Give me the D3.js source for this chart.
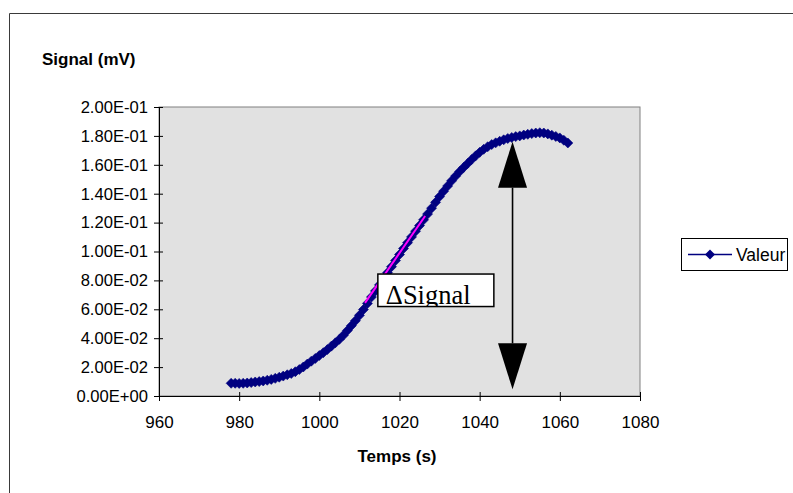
<!DOCTYPE html>
<html>
<head>
<meta charset="utf-8">
<script src="https://cdn.jsdelivr.net/npm/d3@7"></script>
<style>
    body { margin: 0; background: #fff; }
    svg { display: block; font-family: "Liberation Sans", Arial, sans-serif; }
</style>
</head>
<body>
<div id="chart"></div>
<script>
// time (s) and signal (mV)
const times = [
    978, 979, 980, 981, 982, 983, 984, 985, 986, 987, 988, 989, 990, 991, 992, 993, 994,
    995, 996, 997, 998, 999, 1000, 1001, 1002, 1003, 1004, 1005, 1006, 1007, 1008, 1009,
    1010, 1011, 1012, 1013, 1014, 1015, 1016, 1017, 1018, 1019, 1020, 1021, 1022, 1023,
    1024, 1025, 1026, 1027, 1028, 1029, 1030, 1031, 1032, 1033, 1034, 1035, 1036, 1037,
    1038, 1039, 1040, 1041, 1042, 1043, 1044, 1045, 1046, 1047, 1048, 1049, 1050, 1051,
    1052, 1053, 1054, 1055, 1056, 1057, 1058, 1059, 1060, 1061, 1062
];
const signal = [
    0.0088, 0.0088, 0.0087, 0.0088, 0.0090, 0.0093, 0.0097, 0.0100, 0.0104, 0.0109, 0.0115,
    0.0122, 0.0130, 0.0138, 0.0147, 0.0156, 0.0168, 0.0183, 0.0201, 0.0221, 0.0241, 0.0260,
    0.0280, 0.0300, 0.0321, 0.0345, 0.0368, 0.0392, 0.0420, 0.0453, 0.0487, 0.0521, 0.0558,
    0.0598, 0.0641, 0.0685, 0.0727, 0.0769, 0.0811, 0.0853, 0.0895, 0.0937, 0.0979, 0.1021,
    0.1061, 0.1101, 0.1141, 0.1180, 0.1219, 0.1259, 0.1300, 0.1340, 0.1380, 0.1417, 0.1453,
    0.1489, 0.1522, 0.1553, 0.1582, 0.1609, 0.1636, 0.1662, 0.1686, 0.1707, 0.1725, 0.1740,
    0.1752, 0.1763, 0.1773, 0.1782, 0.1789, 0.1795, 0.1800, 0.1806, 0.1811, 0.1816, 0.1820,
    0.1822, 0.1820, 0.1814, 0.1805, 0.1796, 0.1786, 0.1770, 0.1751
];

const xTicks = [960, 980, 1000, 1020, 1040, 1060, 1080];
const yTicks = [0, 0.02, 0.04, 0.06, 0.08, 0.1, 0.12, 0.14, 0.16, 0.18, 0.2];

// tangent (pink) and the delta-signal arrow
const tangentT = [1011.4, 1026.4];
const tangentV = [0.0644, 0.1246];
const arrowT = 1048.2;
const arrowV = [0.0046, 0.176];
const labelText = "\u0394Signal";
const labelAnchor = {t: 1014.6, v: 0.0844};

const seriesName = "Valeur";

function excelSci(v) {
    const [m, e] = v.toExponential(2).split('e');
    const n = +e;
    return m + 'E' + (n < 0 ? '-' : '+') + String(Math.abs(n)).padStart(2, '0');
}

const config = {
    width: 793,
    height: 493,
    plot: {left: 159, top: 107, right: 640, bottom: 396},
    navy: '#000080'
};

const svg = d3.select('#chart').append('svg')
    .attr('width', config.width)
    .attr('height', config.height);

// outer chart frame (runs off to the right and bottom)
svg.append('path')
    .attr('d', `M9.5,${config.height}V13.5H${config.width}`)
    .attr('fill', 'none')
    .attr('stroke', '#3a3a3a')
    .attr('stroke-width', 1);

const xScale = d3.scaleLinear()
    .domain([960, 1080])
    .range([config.plot.left, config.plot.right]);
const yScale = d3.scaleLinear()
    .domain([0, 0.2])
    .range([config.plot.bottom, config.plot.top]);

// plot area
svg.append('rect')
    .attr('x', config.plot.left)
    .attr('y', config.plot.top)
    .attr('width', config.plot.right - config.plot.left)
    .attr('height', config.plot.bottom - config.plot.top)
    .attr('fill', '#e1e1e1')
    .attr('stroke', '#808080')
    .attr('stroke-width', 1);

// axes
const xAxisGroup = svg.append('g')
    .attr('transform', `translate(0, ${config.plot.bottom})`)
    .call(d3.axisBottom(xScale).tickValues(xTicks).tickFormat(d3.format('d')).tickSizeOuter(0));
xAxisGroup.select('.domain').attr('stroke', '#000');
xAxisGroup.selectAll('.tick line').attr('y1', -4).attr('y2', 5).attr('stroke', '#000');
xAxisGroup.selectAll('.tick text')
    .attr('y', 20)
    .attr('dy', 0)
    .attr('dominant-baseline', 'hanging')
    .attr('font-size', 17)
    .attr('font-family', '"Liberation Sans", Arial, sans-serif')
    .attr('fill', '#000');

const yAxisGroup = svg.append('g')
    .attr('transform', `translate(${config.plot.left}, 0)`)
    .call(d3.axisLeft(yScale).tickValues(yTicks).tickFormat(excelSci).tickSizeOuter(0));
yAxisGroup.select('.domain').attr('stroke', '#000');
yAxisGroup.selectAll('.tick line').attr('x1', -5).attr('x2', 4).attr('stroke', '#000');
yAxisGroup.selectAll('.tick text')
    .attr('x', -11)
    .attr('font-size', 16.6)
    .attr('font-family', '"Liberation Sans", Arial, sans-serif')
    .attr('fill', '#000');

// axis titles
svg.append('text')
    .attr('x', 42)
    .attr('y', 65)
    .attr('font-size', 17)
    .attr('font-weight', 'bold')
    .text('Signal (mV)');
svg.append('text')
    .attr('x', 397)
    .attr('y', 462)
    .attr('text-anchor', 'middle')
    .attr('font-size', 17)
    .attr('font-weight', 'bold')
    .text('Temps (s)');

// series
const points = times.map((t, i) => ({t: t, v: signal[i]}));
const diamond = 'M0,-5L5,0L0,5L-5,0Z';

svg.append('path')
    .datum(points)
    .attr('fill', 'none')
    .attr('stroke', config.navy)
    .attr('stroke-width', 1)
    .attr('d', d3.line().x(d => xScale(d.t)).y(d => yScale(d.v)));

svg.append('g')
    .selectAll('path')
    .data(points)
    .join('path')
        .attr('d', diamond)
        .attr('transform', d => `translate(${xScale(d.t)}, ${yScale(d.v)})`)
        .attr('fill', config.navy)
        .attr('stroke', config.navy)
        .attr('stroke-width', 0.6);

// tangent line
svg.append('line')
    .attr('x1', xScale(tangentT[0])).attr('y1', yScale(tangentV[0]))
    .attr('x2', xScale(tangentT[1])).attr('y2', yScale(tangentV[1]))
    .attr('stroke', '#ff00ff')
    .attr('stroke-width', 2);

// delta signal label box (text clipped by the box like the original)
const lx = xScale(labelAnchor.t), ly = yScale(labelAnchor.v);
const boxW = 116, boxH = 32.5;
svg.append('clipPath')
    .attr('id', 'label-clip')
    .append('rect')
        .attr('x', lx).attr('y', ly)
        .attr('width', boxW).attr('height', boxH);
svg.append('rect')
    .attr('x', lx).attr('y', ly)
    .attr('width', boxW).attr('height', boxH)
    .attr('fill', '#fff')
    .attr('stroke', '#000')
    .attr('stroke-width', 1.5);
svg.append('text')
    .attr('clip-path', 'url(#label-clip)')
    .attr('x', lx + 8)
    .attr('y', ly + 30)
    .attr('font-family', '"Liberation Serif", "Times New Roman", serif')
    .attr('font-size', 26.5)
    .attr('fill', '#000')
    .text(labelText);

// double arrow
const ax = xScale(arrowT);
const yLow = yScale(arrowV[0]), yHigh = yScale(arrowV[1]);
const headH = 46, headW = 14.5;
svg.append('line')
    .attr('x1', ax).attr('x2', ax)
    .attr('y1', yHigh + headH).attr('y2', yLow - headH)
    .attr('stroke', '#000')
    .attr('stroke-width', 1.6);
svg.append('path')
    .attr('d', `M${ax},${yHigh}L${ax + headW},${yHigh + headH}L${ax - headW},${yHigh + headH}Z`)
    .attr('fill', '#000');
svg.append('path')
    .attr('d', `M${ax},${yLow}L${ax + headW},${yLow - headH}L${ax - headW},${yLow - headH}Z`)
    .attr('fill', '#000');

// legend
const legend = svg.append('g').attr('transform', 'translate(681, 238)');
legend.append('rect')
    .attr('x', 0.5).attr('y', 0.5)
    .attr('width', 106).attr('height', 32)
    .attr('fill', '#fff')
    .attr('stroke', '#000')
    .attr('stroke-width', 1);
legend.append('line')
    .attr('x1', 7).attr('x2', 51)
    .attr('y1', 16.5).attr('y2', 16.5)
    .attr('stroke', config.navy)
    .attr('stroke-width', 1.5);
legend.append('path')
    .attr('d', diamond)
    .attr('transform', 'translate(29, 16.5)')
    .attr('fill', config.navy);
legend.append('text')
    .attr('x', 55)
    .attr('y', 22.5)
    .attr('font-size', 17.5)
    .attr('fill', '#000')
    .text(seriesName);
</script>
</body>
</html>
